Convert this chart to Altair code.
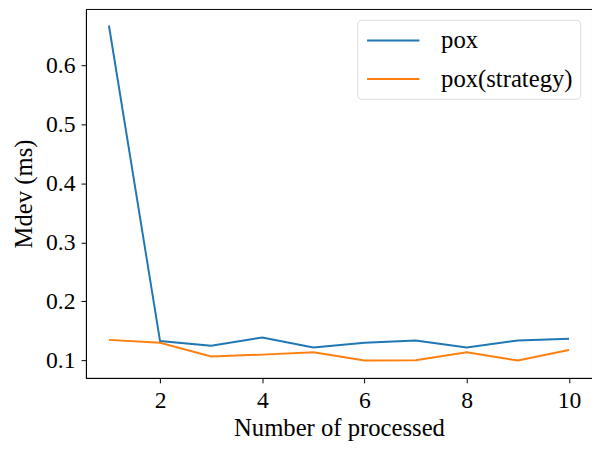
import altair as alt
import pandas as pd

processed = [1, 2, 3, 4, 5, 6, 7, 8, 9, 10]
pox = [0.667, 0.133, 0.125, 0.139, 0.122, 0.130, 0.134, 0.122, 0.134, 0.137]
pox_strategy = [0.135, 0.130, 0.107, 0.110, 0.114, 0.100, 0.1005, 0.114, 0.100, 0.118]
series_names = ["pox", "pox(strategy)"]
series_colors = ["#1f77b4", "#ff7f0e"]
x_ticks = [2, 4, 6, 8, 10]
y_ticks = [0.1, 0.2, 0.3, 0.4, 0.5, 0.6]

rows = []
for i, n in enumerate(processed):
    rows.append({"n": n, "mdev": pox[i], "series": series_names[0]})
    rows.append({"n": n, "mdev": pox_strategy[i], "series": series_names[1]})
df = pd.DataFrame(rows)

FONT = "Liberation Serif"

chart = alt.Chart(df).mark_line(strokeWidth=2).encode(
    x=alt.X("n:Q",
            scale=alt.Scale(domain=[0.55, 10.45], nice=False, zero=False),
            axis=alt.Axis(values=x_ticks, format="d", title="Number of processed",
                          grid=False, tickSize=5, labelPadding=6, titlePadding=3,
                          domainColor="black", tickColor="black")),
    y=alt.Y("mdev:Q",
            scale=alt.Scale(domain=[0.0706, 0.695], nice=False, zero=False),
            axis=alt.Axis(values=y_ticks, format=".1f", title="Mdev (ms)",
                          grid=False, tickSize=5, labelPadding=6, titlePadding=9,
                          domainColor="black", tickColor="black")),
    color=alt.Color("series:N",
                    scale=alt.Scale(domain=series_names, range=series_colors),
                    legend=alt.Legend(title=None, orient="none", legendX=275, legendY=11,
                                      symbolType="M-1,0H3.08", symbolSize=676,
                                      symbolStrokeWidth=2, labelOffset=48,
                                      symbolOffset=2,
                                      padding=7, strokeColor="#dddddd",
                                      fillColor="white", cornerRadius=4,
                                      rowPadding=12)),
    order="n:Q",
).properties(
    width=513,
    height=374,
    autosize=alt.AutoSizeParams(type="none"),
    padding={"left": 79, "top": -2, "right": 0, "bottom": 64},
).configure_view(
    stroke="black", strokeWidth=1
).configure_axis(
    labelFont=FONT, titleFont=FONT, labelFontSize=24, titleFontSize=25,
    labelColor="black", titleColor="black", titleFontWeight="normal",
).configure_legend(
    labelFont=FONT, labelFontSize=25, labelColor="black",
)

chart.save("out.html", embed_options={"renderer": "svg", "actions": False})
